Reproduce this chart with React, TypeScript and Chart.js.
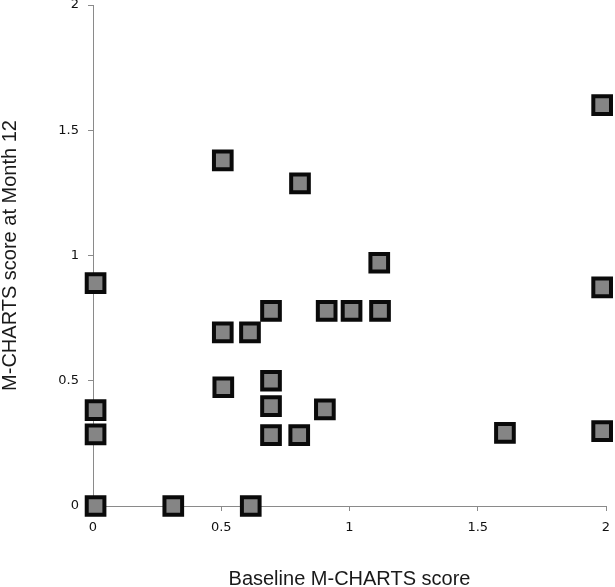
import React, { useEffect, useRef } from "react";
import { Chart, registerables } from "chart.js";

Chart.register(...registerables);

const baselineScores = [
  0.01, 0.01, 0.01, 0.01, 0.313, 0.615, 0.506, 0.807, 0.506, 0.612, 0.694, 0.911, 1.008,
  1.119, 1.116, 0.508, 0.694, 0.694, 0.904, 0.694, 0.804, 1.606, 1.985, 1.985, 1.985,
];
const month12Scores = [
  0.89, 0.383, 0.286, 0, 0, 0, 1.38, 1.288, 0.693, 0.693, 0.779, 0.779, 0.779,
  0.779, 0.971, 0.474, 0.5, 0.399, 0.386, 0.283, 0.283, 0.292, 1.6, 0.873, 0.299,
];
const tickValues = [0, 0.5, 1, 1.5, 2];
const xTitle = "Baseline M-CHARTS score";
const yTitle = "M-CHARTS score at Month 12";

export default function App() {
  const ref = useRef<HTMLCanvasElement | null>(null);

  useEffect(() => {
    if (!ref.current) return;
    const points = baselineScores.map((x, i) => ({ x, y: month12Scores[i] }));
    const axisColor = "#8a8a8a";
    const tickFont = { family: "DejaVu Sans", size: 13 };
    const titleFont = { family: "Liberation Sans", size: 20, lineHeight: 1 };
    const fmt = (v: any) => String(v);
    const zeroPad = (s: any) => {
      s.paddingTop = 0;
      s.paddingBottom = 0;
      s.paddingLeft = 0;
      s.paddingRight = 0;
    };
    const chart = new Chart(ref.current, {
      type: "scatter",
      data: {
        datasets: [
          {
            data: points,
            pointStyle: "rect",
            pointRadius: 12.5,
            pointHoverRadius: 12.5,
            borderWidth: 4,
            pointBorderWidth: 4,
            borderColor: "#0a0a0a",
            backgroundColor: "#858585",
            clip: false,
          } as any,
        ],
      },
      options: {
        responsive: false,
        animation: false,
        layout: { autoPadding: false, padding: { top: 5, right: 9, left: 0, bottom: 0 } },
        plugins: { legend: { display: false }, tooltip: { enabled: false } },
        scales: {
          x: {
            type: "linear",
            min: 0,
            max: 2,
            afterBuildTicks: (s: any) => {
              s.ticks = tickValues.map((v) => ({ value: v }));
            },
            ticks: { font: tickFont, color: "#111", padding: 9, maxRotation: 0, callback: fmt },
            grid: { drawOnChartArea: false, drawTicks: true, tickLength: 5, color: axisColor },
            border: { display: true, color: axisColor, width: 1 },
            title: {
              display: true,
              text: xTitle,
              font: titleFont,
              color: "#1a1a1a",
              padding: { top: 0, bottom: -2 },
            },
            afterFit: (s: any) => {
              s.height = 81;
              zeroPad(s);
            },
          },
          y: {
            type: "linear",
            min: 0,
            max: 2,
            afterBuildTicks: (s: any) => {
              s.ticks = tickValues.map((v) => ({ value: v }));
            },
            ticks: { font: tickFont, color: "#111", padding: 9, callback: fmt },
            grid: { drawOnChartArea: false, drawTicks: true, tickLength: 5, color: axisColor },
            border: { display: true, color: axisColor, width: 1 },
            title: {
              display: true,
              text: yTitle,
              font: titleFont,
              color: "#1a1a1a",
              padding: { top: 0, bottom: 0 },
            },
            afterFit: (s: any) => {
              s.width = 93;
              zeroPad(s);
            },
          },
        },
      } as any,
    });
    return () => chart.destroy();
  }, []);

  return (
    <div style={{ position: "absolute", left: 0, top: 0, width: 615, height: 587, background: "#fff" }}>
      <canvas ref={ref} width={615} height={587} style={{ width: 615, height: 587, display: "block" }} />
    </div>
  );
}
